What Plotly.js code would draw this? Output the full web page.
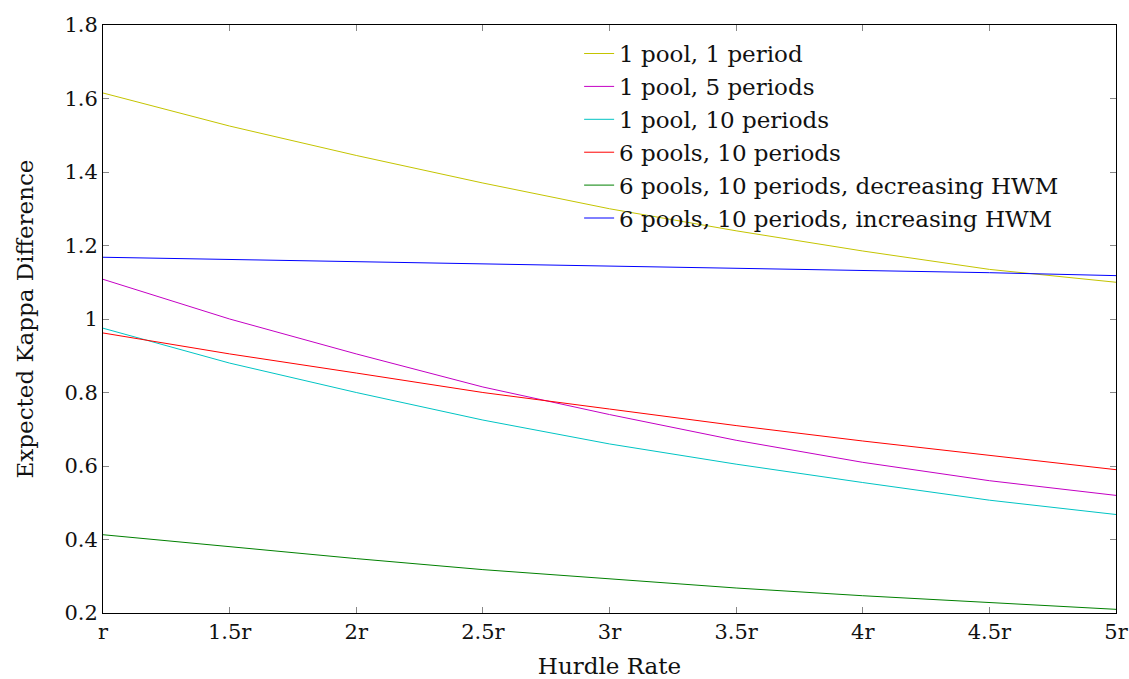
<!DOCTYPE html>
<html>
<head>
<meta charset="utf-8">
<script src="https://cdn.plot.ly/plotly-3.0.1.min.js"></script>
<style>html,body{margin:0;padding:0;background:#fff;}#chart{width:1129px;height:679px;}</style>
</head>
<body>
<div id="chart"></div>
<script>
const hurdle = [1, 1.5, 2, 2.5, 3, 3.5, 4, 4.5, 5];
const xTickLabels = ["r", "1.5r", "2r", "2.5r", "3r", "3.5r", "4r", "4.5r", "5r"];
const yTickVals = [0.2, 0.4, 0.6, 0.8, 1, 1.2, 1.4, 1.6, 1.8];
const yTickLabels = ["0.2", "0.4", "0.6", "0.8", "1", "1.2", "1.4", "1.6", "1.8"];

const pool1Period1 = [1.615, 1.525, 1.445, 1.37, 1.30, 1.24, 1.185, 1.135, 1.10];
const pool1Period5 = [1.108, 1.00, 0.905, 0.815, 0.74, 0.67, 0.61, 0.56, 0.52];
const pool1Period10 = [0.975, 0.88, 0.80, 0.725, 0.66, 0.605, 0.555, 0.507, 0.468];
const pools6Period10 = [0.962, 0.905, 0.853, 0.80, 0.755, 0.71, 0.668, 0.628, 0.59];
const pools6DecHWM = [0.413, 0.38, 0.348, 0.318, 0.292, 0.268, 0.247, 0.228, 0.21];
const pools6IncHWM = [1.168, 1.162, 1.156, 1.150, 1.145, 1.139, 1.133, 1.126, 1.118];

const seriesNames = ["1 pool, 1 period", "1 pool, 5 periods", "1 pool, 10 periods",
  "6 pools, 10 periods", "6 pools, 10 periods, decreasing HWM", "6 pools, 10 periods, increasing HWM"];
const seriesData = [pool1Period1, pool1Period5, pool1Period10, pools6Period10, pools6DecHWM, pools6IncHWM];
const colors = ["#c4c400", "#c400c4", "#00c4c4", "#ff0000", "#008000", "#0000ff"];

const traces = seriesData.map((ys, i) => ({
  x: hurdle, y: ys, type: 'scatter', mode: 'lines', name: seriesNames[i],
  line: {color: colors[i], width: 1}
}));

const fam = "'DejaVu Serif', serif";
const titleFont = {family: fam, size: 23, color: "#111"};
const tickFont = {family: fam, size: 21, color: "#111"};
const layout = {
  width: 1129, height: 679,
  margin: {l: 103, r: 13, t: 25, b: 66},
  paper_bgcolor: "#fff", plot_bgcolor: "#fff",
  font: tickFont,
  showlegend: true,
  legend: {x: 0.47, y: 0.988, xanchor: 'left', yanchor: 'top', bgcolor: 'rgba(255,255,255,0)',
    font: {family: fam, size: 23, color: "#111"}, tracegroupgap: 0},
  xaxis: {
    range: [1, 5], tickvals: hurdle, ticktext: xTickLabels,
    ticks: 'inside', ticklen: 6, tickcolor: '#888', mirror: 'ticks',
    showline: true, linecolor: '#000', linewidth: 1, showgrid: false, zeroline: false,
    title: {text: "Hurdle Rate", font: titleFont, standoff: 17},
    tickfont: tickFont
  },
  yaxis: {
    range: [0.2, 1.8], tickvals: yTickVals, ticktext: yTickLabels,
    ticks: 'inside', ticklen: 6, tickcolor: '#888', mirror: 'ticks',
    showline: true, linecolor: '#000', linewidth: 1, showgrid: false, zeroline: false,
    title: {text: "Expected Kappa Difference", font: titleFont, standoff: 24},
    tickfont: tickFont
  }
};
Plotly.newPlot('chart', traces, layout, {displayModeBar: false, staticPlot: true});
</script>
</body>
</html>
